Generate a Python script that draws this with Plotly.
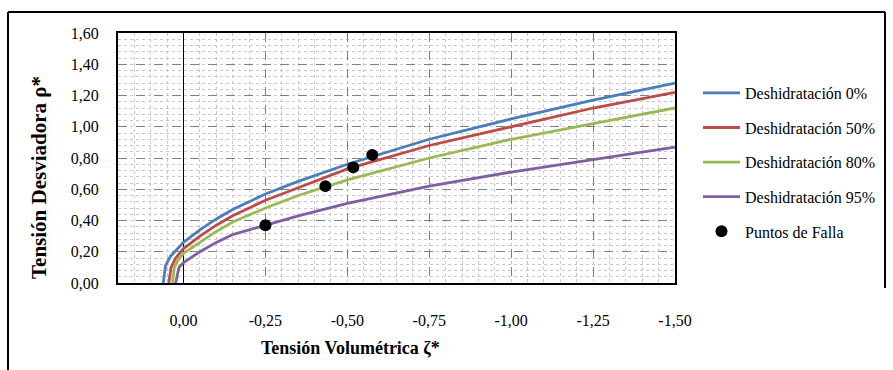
import plotly.graph_objects as go

# Data
x_d0 = [0.062, 0.055, 0.040, 0.0, -0.05, -0.10, -0.15, -0.25, -0.35, -0.50, -0.75, -1.00, -1.25, -1.50]
y_d0 = [0.00, 0.11, 0.17, 0.26, 0.34, 0.41, 0.47, 0.57, 0.65, 0.76, 0.92, 1.05, 1.17, 1.28]

x_d50 = [0.045, 0.038, 0.024, 0.0, -0.05, -0.10, -0.15, -0.25, -0.35, -0.50, -0.75, -1.00, -1.25, -1.50]
y_d50 = [0.00, 0.10, 0.16, 0.22, 0.30, 0.37, 0.43, 0.53, 0.61, 0.73, 0.88, 1.00, 1.12, 1.22]

x_d80 = [0.034, 0.028, 0.016, 0.0, -0.05, -0.10, -0.15, -0.25, -0.35, -0.50, -0.75, -1.00, -1.25, -1.50]
y_d80 = [0.00, 0.10, 0.15, 0.19, 0.26, 0.33, 0.39, 0.48, 0.56, 0.66, 0.80, 0.92, 1.02, 1.12]

x_d95 = [0.024, 0.014, 0.005, 0.0, -0.05, -0.10, -0.15, -0.25, -0.35, -0.50, -0.75, -1.00, -1.25, -1.50]
y_d95 = [0.00, 0.10, 0.12, 0.13, 0.20, 0.26, 0.31, 0.37, 0.43, 0.51, 0.62, 0.71, 0.79, 0.87]

x_falla = [-0.25, -0.433, -0.518, -0.576]
y_falla = [0.37, 0.62, 0.74, 0.82]

series_names = ["Deshidratación 0%", "Deshidratación 50%", "Deshidratación 80%", "Deshidratación 95%"]
series_colors = ["#4A7EBB", "#BE4B48", "#98B954", "#7D60A0"]

x_tickvals = [0.0, -0.25, -0.50, -0.75, -1.00, -1.25, -1.50]
x_ticktext = ["0,00", "-0,25", "-0,50", "-0,75", "-1,00", "-1,25", "-1,50"]
y_tickvals = [0.0, 0.2, 0.4, 0.6, 0.8, 1.0, 1.2, 1.4, 1.6]
y_ticktext = ["0,00", "0,20", "0,40", "0,60", "0,80", "1,00", "1,20", "1,40", "1,60"]

FONT = "Liberation Serif, Times New Roman, serif"

fig = go.Figure()
for i, (xs, ys) in enumerate([(x_d0, y_d0), (x_d50, y_d50), (x_d80, y_d80), (x_d95, y_d95)]):
    fig.add_trace(go.Scatter(
        x=xs, y=ys, mode="lines", name=series_names[i],
        line=dict(color=series_colors[i], width=2.8),
        legendgroup=f"g{i}",
    ))
fig.add_trace(go.Scatter(
    x=x_falla, y=y_falla, mode="markers", name="Puntos de Falla",
    marker=dict(color="black", size=12),
    legendgroup="g4",
))

W, H = 893, 370
L, R, T, B = 118, 675, 33, 283
pw, ph = R - L, B - T

def px(xp):
    return (xp - L) / pw

def py(yp):
    return (B - yp) / ph

fig.update_layout(
    width=W, height=H,
    margin=dict(l=L, r=W - R, t=T, b=H - B, autoexpand=False),
    paper_bgcolor="white", plot_bgcolor="white",
    font=dict(family=FONT, size=16, color="black"),
    showlegend=True,
    legend=dict(
        x=px(698), y=py(76), xanchor="left", yanchor="top",
        font=dict(family=FONT, size=16, color="black"),
        tracegroupgap=10.8, itemwidth=37,
        bgcolor="rgba(0,0,0,0)",
    ),
    xaxis=dict(
        range=[0.2, -1.5], autorange=False,
        tickvals=x_tickvals, ticktext=x_ticktext,
        ticks="", ticklabelstandoff=22,
        showgrid=True, gridcolor="#808080", griddash="dash", gridwidth=1,
        minor=dict(dtick=0.05, tick0=0, showgrid=True, gridcolor="#c8c8c8", griddash="dot", gridwidth=1),
        zeroline=True, zerolinecolor="black", zerolinewidth=1.2,
        showline=True, linecolor="black", linewidth=2, mirror=True,
        tickfont=dict(family=FONT, size=16),
    ),
    yaxis=dict(
        range=[0, 1.6], autorange=False,
        tickvals=y_tickvals, ticktext=y_ticktext,
        ticks="", ticklabelstandoff=14,
        showgrid=True, gridcolor="#808080", griddash="dash", gridwidth=1,
        minor=dict(dtick=0.04, tick0=0, showgrid=True, gridcolor="#c8c8c8", griddash="dot", gridwidth=1),
        zeroline=False,
        showline=True, linecolor="black", linewidth=2, mirror=True,
        tickfont=dict(family=FONT, size=16),
    ),
    annotations=[
        dict(text="<b>Tensión Volumétrica ζ*</b>", xref="paper", yref="paper",
             x=px(350), y=py(348), xanchor="center", yanchor="middle", showarrow=False,
             font=dict(family=FONT, size=18, color="black")),
        dict(text="<b>Tensión Desviadora ρ*</b>", xref="paper", yref="paper",
             x=px(39), y=py(178), xanchor="center", yanchor="middle", showarrow=False,
             textangle=-90, font=dict(family=FONT, size=21, color="black")),
    ],
    shapes=[
        dict(type="line", xref="paper", yref="paper", x0=px(8), x1=px(885), y0=py(12), y1=py(12),
             line=dict(color="black", width=2)),
        dict(type="line", xref="paper", yref="paper", x0=px(8), x1=px(8), y0=py(12), y1=py(372),
             line=dict(color="black", width=2)),
        dict(type="line", xref="paper", yref="paper", x0=px(885), x1=px(885), y0=py(12), y1=py(288),
             line=dict(color="black", width=2)),
    ],
)

fig.write_html("out.html", config={"displayModeBar": False},
               post_script="document.body.style.margin='0px';document.body.style.padding='0px';")
